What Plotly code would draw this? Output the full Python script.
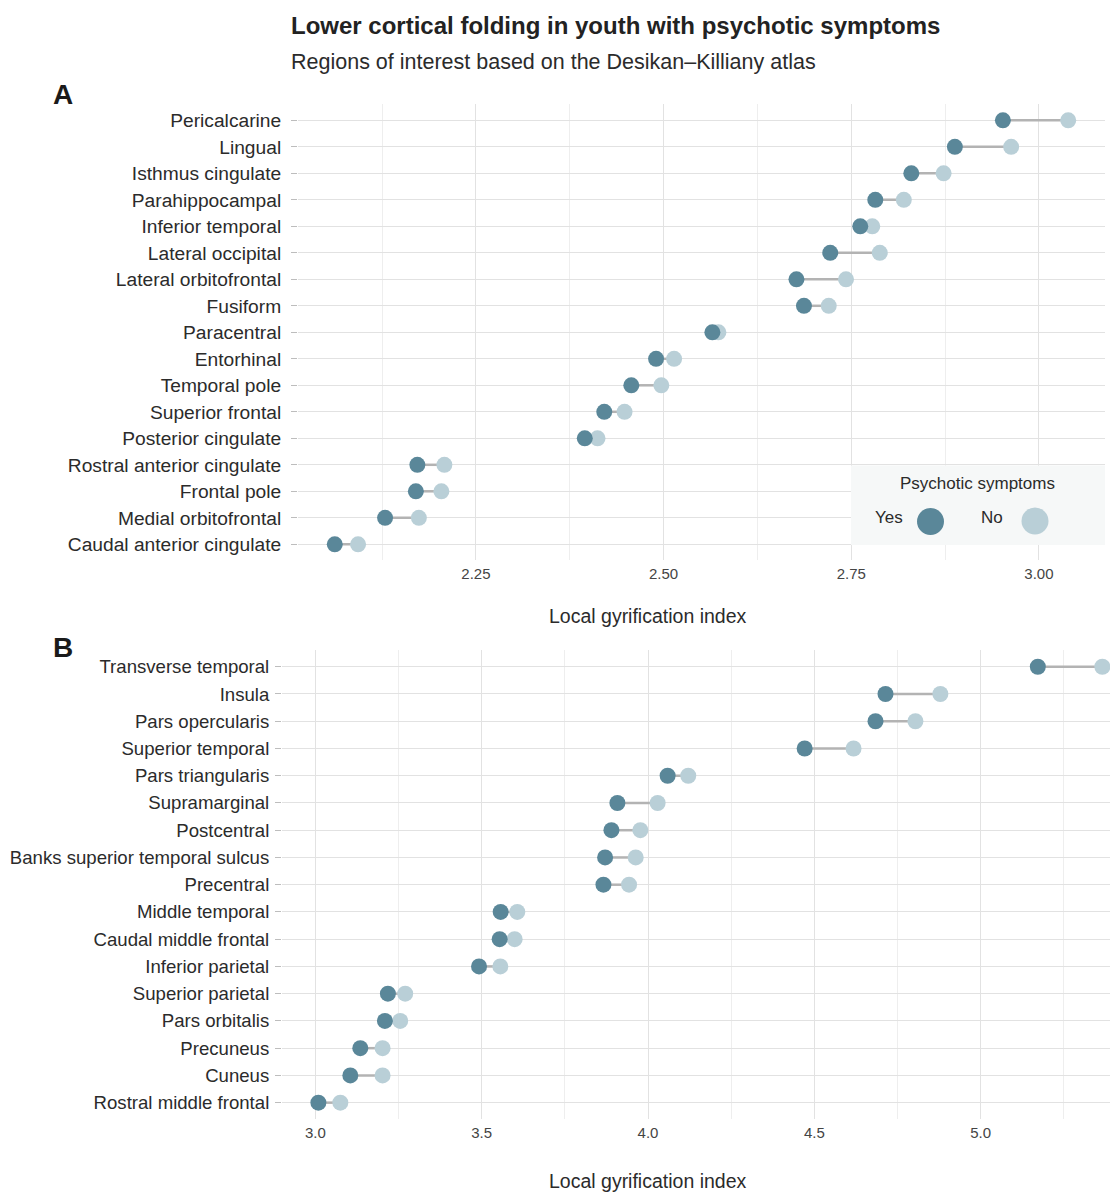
import plotly.graph_objects as go

# ---------------- Data ----------------
regions_a = ["Pericalcarine", "Lingual", "Isthmus cingulate", "Parahippocampal",
             "Inferior temporal", "Lateral occipital", "Lateral orbitofrontal",
             "Fusiform", "Paracentral", "Entorhinal", "Temporal pole",
             "Superior frontal", "Posterior cingulate", "Rostral anterior cingulate",
             "Frontal pole", "Medial orbitofrontal", "Caudal anterior cingulate"]
yes_a = [2.952, 2.888, 2.830, 2.782, 2.762, 2.722, 2.677, 2.687, 2.565,
         2.490, 2.457, 2.421, 2.395, 2.172, 2.170, 2.129, 2.062]
no_a = [3.039, 2.963, 2.873, 2.820, 2.778, 2.788, 2.743, 2.720, 2.573,
        2.514, 2.497, 2.448, 2.412, 2.208, 2.204, 2.174, 2.093]

regions_b = ["Transverse temporal", "Insula", "Pars opercularis", "Superior temporal",
             "Pars triangularis", "Supramarginal", "Postcentral",
             "Banks superior temporal sulcus", "Precentral", "Middle temporal",
             "Caudal middle frontal", "Inferior parietal", "Superior parietal",
             "Pars orbitalis", "Precuneus", "Cuneus", "Rostral middle frontal"]
yes_b = [5.172, 4.714, 4.684, 4.471, 4.059, 3.908, 3.890, 3.871, 3.866,
         3.557, 3.554, 3.492, 3.218, 3.209, 3.135, 3.105, 3.009]
no_b = [5.366, 4.879, 4.804, 4.618, 4.121, 4.029, 3.977, 3.963, 3.943,
        3.607, 3.599, 3.556, 3.270, 3.255, 3.202, 3.202, 3.075]

ticks_a = [2.25, 2.50, 2.75, 3.00]
ticklabels_a = ["2.25", "2.50", "2.75", "3.00"]
ticks_b = [3.0, 3.5, 4.0, 4.5, 5.0]
ticklabels_b = ["3.0", "3.5", "4.0", "4.5", "5.0"]

title = "Lower cortical folding in youth with psychotic symptoms"
subtitle = "Regions of interest based on the Desikan\u2013Killiany atlas"
x_title = "Local gyrification index"
legend_title = "Psychotic symptoms"
groups = ["Yes", "No"]

# ---------------- Style ----------------
OFF = 0                      # page body margin removed via post_script
W, H = 1110 - OFF, 1192 - OFF
FONT = "Liberation Sans, Arial, Helvetica, sans-serif"
C_YES = "#5a8799"
C_NO = "#b9cfd7"
C_SEG = "#b3b3b3"
GRID = "#e2e2e2"
GRID_MINOR = "#eeeeee"
TXT = "#2b2b2b"


def px_x(p):
    return (p - OFF) / W


def px_y(p):
    return 1 - (p - OFF) / H


fig = go.Figure()


def add_panel(regions, yes, no, xa, ya):
    sx, sy = [], []
    for r, a, b in zip(regions, yes, no):
        sx += [a, b, None]
        sy += [r, r, None]
    fig.add_trace(go.Scatter(x=sx, y=sy, mode="lines",
                             line=dict(color=C_SEG, width=2.5),
                             xaxis=xa, yaxis=ya, showlegend=False, hoverinfo="skip"))
    fig.add_trace(go.Scatter(x=no, y=regions, mode="markers", name="No",
                             marker=dict(color=C_NO, size=16, line=dict(width=0)),
                             xaxis=xa, yaxis=ya, showlegend=False))
    fig.add_trace(go.Scatter(x=yes, y=regions, mode="markers", name="Yes",
                             marker=dict(color=C_YES, size=16, line=dict(width=0)),
                             xaxis=xa, yaxis=ya, showlegend=False))


add_panel(regions_a, yes_a, no_a, "x", "y")
add_panel(regions_b, yes_b, no_b, "x2", "y2")

n = len(regions_a)

xcommon = dict(showline=False, zeroline=False, ticks="", showgrid=True,
               automargin=False,
               gridcolor=GRID, gridwidth=1.2,
               tickfont=dict(family=FONT, size=15, color="#444444"),
               ticklabelstandoff=3)
ycommon = dict(type="category", showline=False, zeroline=False, showgrid=True,
               automargin=False,
               gridcolor=GRID, gridwidth=1.4,
               ticks="outside", ticklen=6, tickwidth=1.4, tickcolor="#bdbdbd",
               range=[n - 0.4, -0.6])

fig.update_layout(
    width=W, height=H,
    margin=dict(l=0, r=0, t=0, b=0, autoexpand=False),
    paper_bgcolor="white", plot_bgcolor="white",
    font=dict(family=FONT, color=TXT),
    xaxis=dict(xcommon, domain=[px_x(298), px_x(1105)], anchor="y",
               range=[2.013, 3.088], tickvals=ticks_a, ticktext=ticklabels_a,
               minor=dict(dtick=0.125, tick0=2.0, showgrid=True,
                          gridcolor=GRID_MINOR, gridwidth=1)),
    yaxis=dict(ycommon, domain=[px_y(560.2), px_y(104.4)], anchor="x",
               tickfont=dict(family=FONT, size=19.2, color=TXT),
               ticklabelstandoff=6,
               categoryorder="array", categoryarray=regions_a),
    xaxis2=dict(xcommon, domain=[px_x(282), 1.0], anchor="y2",
                range=[2.8996, 5.389], tickvals=ticks_b, ticktext=ticklabels_b,
                minor=dict(dtick=0.25, tick0=2.75, showgrid=True,
                           gridcolor=GRID_MINOR, gridwidth=1)),
    yaxis2=dict(ycommon, domain=[px_y(1119), px_y(650.4)], anchor="x2",
                tickfont=dict(family=FONT, size=18.6, color=TXT),
                ticklabelstandoff=2,
                categoryorder="array", categoryarray=regions_b),
)

ann = [
    dict(text="<b>" + title + "</b>", x=px_x(289), y=px_y(26), xanchor="left",
         yanchor="middle", font=dict(size=24, color="#222222")),
    dict(text=subtitle, x=px_x(289), y=px_y(62), xanchor="left",
         yanchor="middle", font=dict(size=21.5, color="#2b2b2b")),
    dict(text="<b>A</b>", x=px_x(51), y=px_y(95), xanchor="left",
         yanchor="middle", font=dict(size=28, color="#1a1a1a")),
    dict(text="<b>B</b>", x=px_x(51), y=px_y(647), xanchor="left",
         yanchor="middle", font=dict(size=28, color="#1a1a1a")),
    dict(text=x_title, x=px_x(648), y=px_y(616), xanchor="center",
         yanchor="middle", font=dict(size=19.5, color=TXT)),
    dict(text=x_title, x=px_x(648), y=px_y(1181), xanchor="center",
         yanchor="middle", font=dict(size=19.5, color=TXT)),
    # legend texts
    dict(text=legend_title, x=px_x(977), y=px_y(483), xanchor="center",
         yanchor="middle", font=dict(size=17, color=TXT)),
    dict(text=groups[0], x=px_x(889), y=px_y(517), xanchor="center",
         yanchor="middle", font=dict(size=17, color=TXT)),
    dict(text=groups[1], x=px_x(992), y=px_y(517), xanchor="center",
         yanchor="middle", font=dict(size=17, color=TXT)),
]
for a in ann:
    a.update(xref="paper", yref="paper", showarrow=False)
fig.update_layout(annotations=ann)

r = 13.5
shapes = [
    dict(type="rect", xref="paper", yref="paper",
         x0=px_x(851), x1=px_x(1105), y0=px_y(545), y1=px_y(465.5),
         fillcolor="#f6f8f8", line=dict(width=0), layer="above"),
    dict(type="circle", xref="paper", yref="paper",
         x0=px_x(930.5 - r), x1=px_x(930.5 + r), y0=px_y(521.5 + r), y1=px_y(521.5 - r),
         fillcolor=C_YES, line=dict(width=0), layer="above"),
    dict(type="circle", xref="paper", yref="paper",
         x0=px_x(1035 - r), x1=px_x(1035 + r), y0=px_y(521 + r), y1=px_y(521 - r),
         fillcolor=C_NO, line=dict(width=0), layer="above"),
]
fig.update_layout(shapes=shapes)

fig.write_html("out.html",
               config={"displayModeBar": False},
               post_script="document.body.style.margin='0';"
                           "document.body.style.overflow='hidden';")
